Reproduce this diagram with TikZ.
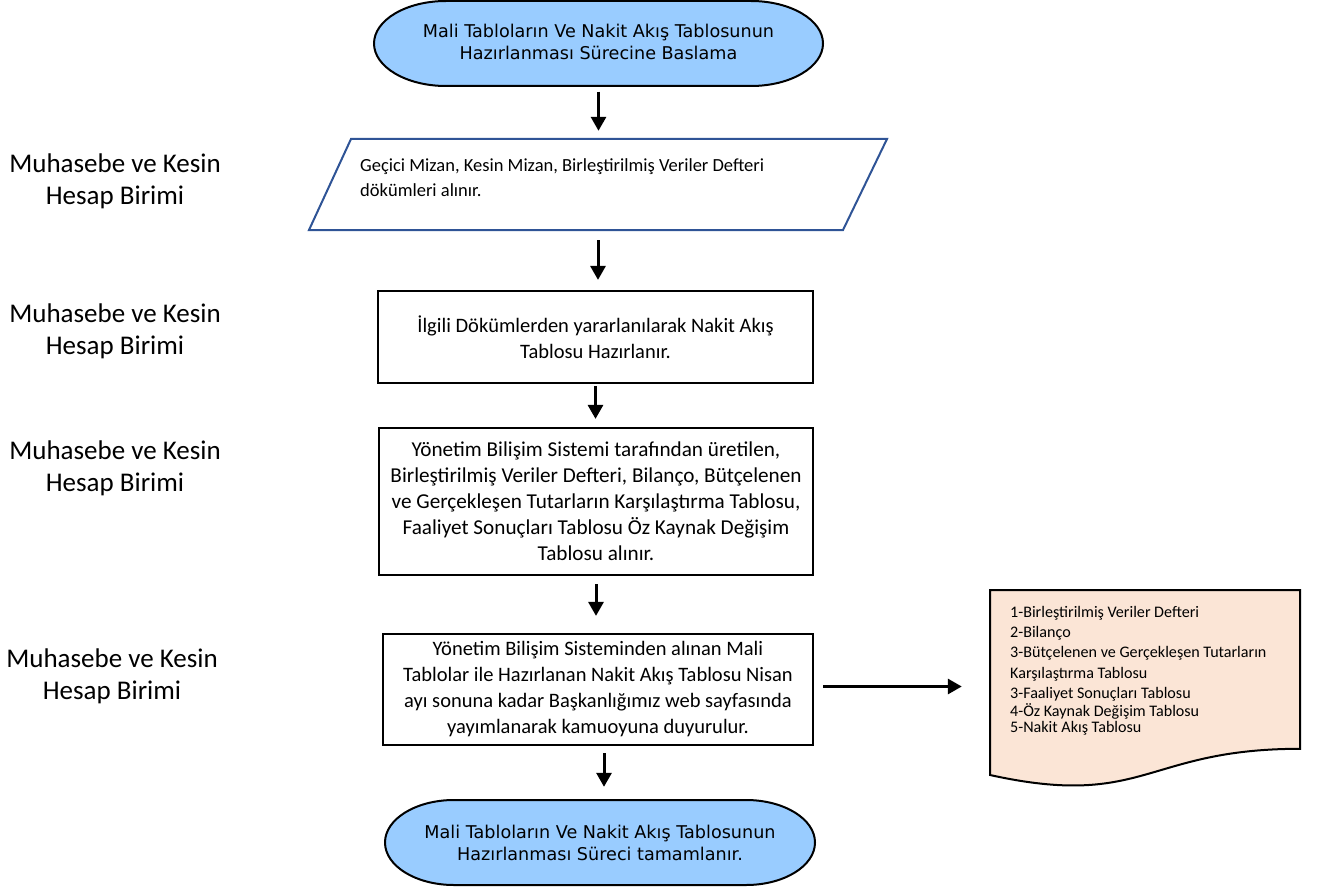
\documentclass[tikz,border=0pt]{standalone}
\usepackage{fontspec}
\setmainfont{Carlito}
\newfontfamily\termfont{DejaVu Sans}
\usetikzlibrary{arrows.meta,calc}
\definecolor{termblue}{RGB}{153,204,255}
\definecolor{parblue}{RGB}{47,84,150}
\definecolor{docfill}{RGB}{251,229,214}
\tikzset{
  ghost/.style={inner sep=0pt, draw=none},
  procbox/.style={draw=black, line width=2.2pt, align=center, inner sep=0pt,
    font=\fontsize{20.5}{26}\selectfont},
  lab/.style={align=center, font=\fontsize{27}{32}\selectfont},
  termtext/.style={align=center, font=\termfont\fontsize{17.6}{22}\selectfont},
  termshape/.style={fill=termblue, draw=black, line width=2pt},
  arr/.style={line width=3pt, -{Triangle[length=14pt,width=15pt]}},
}
\begin{document}
\begin{tikzpicture}[x=1pt,y=-1pt]
\useasboundingbox (0,0) rectangle (1320,888);

% shapes drawn directly
\path[termshape] (446,1) -- (751,1) arc[start angle=90,end angle=-90,x radius=72pt,y radius=42.5pt]
  -- (446,86) arc[start angle=270,end angle=90,x radius=72pt,y radius=42.5pt] -- cycle;
\path[termshape] (454,800) -- (746,800) arc[start angle=90,end angle=-90,x radius=69pt,y radius=42.5pt]
  -- (454,885) arc[start angle=270,end angle=90,x radius=69pt,y radius=42.5pt] -- cycle;
\filldraw[draw=parblue, fill=white, line width=2pt] (351,139) -- (887,139) -- (843,230) -- (309,230) -- cycle;
\filldraw[draw=black, fill=docfill, line width=2pt] (990,590) -- (1300,590) -- (1300,748.8)
  .. controls (1145,748.8) and (1145,809.2) .. (990,775) -- cycle;

% nodes
\node[ghost, termtext, minimum width=449pt, minimum height=85pt] (start) at (598.5,42)
  {Mali Tabloların Ve Nakit Akış Tablosunun\\Hazırlanması Sürecine Baslama};
\node[ghost, minimum width=578pt, minimum height=91pt] (input) at (598,184.5) {};
\node[anchor=west, inner sep=0pt, align=left, font=\fontsize{18.5}{25}\selectfont] (inputtext) at (360,178)
  {Geçici Mizan, Kesin Mizan, Birleştirilmiş Veriler Defteri\\dökümleri alınır.};
\node[procbox, minimum width=435pt, minimum height=92pt] (box2) at (595.5,337)
  {İlgili Dökümlerden yararlanılarak Nakit Akış\\Tablosu Hazırlanır.};
\node[procbox, minimum width=434pt, minimum height=147pt, font=\fontsize{21.2}{26}\selectfont] (box3) at (596,501.5)
  {Yönetim Bilişim Sistemi tarafından üretilen,\\Birleştirilmiş Veriler Defteri, Bilanço, Bütçelenen\\ve Gerçekleşen Tutarların Karşılaştırma Tablosu,\\Faaliyet Sonuçları Tablosu Öz Kaynak Değişim\\Tablosu alınır.};
\node[procbox, minimum width=430pt, minimum height=111pt] (box4) at (598,689.5)
  {Yönetim Bilişim Sisteminden alınan Mali\\Tablolar ile Hazırlanan Nakit Akış Tablosu Nisan\\ayı sonuna kadar Başkanlığımız web sayfasında\\yayımlanarak kamuoyuna duyurulur.};
\node[ghost, termtext, minimum width=430pt, minimum height=85pt] (end) at (600,842.5)
  {Mali Tabloların Ve Nakit Akış Tablosunun\\Hazırlanması Süreci tamamlanır.};
\node[ghost, minimum width=310pt, minimum height=198pt] (doc) at (1145,689) {};
\node[anchor=north west, inner sep=0pt, align=left, font=\fontsize{16.1}{20.3}\selectfont] (doctext) at (1010,606)
  {1-Birleştirilmiş Veriler Defteri\\2-Bilanço\\3-Bütçelenen ve Gerçekleşen Tutarların\\Karşılaştırma Tablosu\\3-Faaliyet Sonuçları Tablosu\\[-2pt]4-Öz Kaynak Değişim Tablosu\\[-4.5pt]5-Nakit Akış Tablosu};

\node[lab] (lab1) at (115,181.5) {Muhasebe ve Kesin\\Hesap Birimi};
\node[lab] (lab2) at (115,331.5) {Muhasebe ve Kesin\\Hesap Birimi};
\node[lab] (lab3) at (115,468.5) {Muhasebe ve Kesin\\Hesap Birimi};
\node[lab] (lab4) at (112,676.5) {Muhasebe ve Kesin\\Hesap Birimi};

% connectors
\draw[arr, shorten <=7pt, shorten >=8pt] (start.south) -- (start.south |- input.north);
\draw[arr, shorten <=10pt, shorten >=10pt] (input.south) -- (input.south |- box2.north);
\draw[arr, shorten <=2pt, shorten >=8pt] (box2.south) -- (box2.south |- box3.north);
\draw[arr, shorten <=8pt, shorten >=17pt] (box3.south) -- (box3.south |- box4.north);
\draw[arr, shorten <=7pt, shorten >=13pt] ([xshift=6pt]box4.south) -- ([xshift=6pt]box4.south |- end.north);
\draw[arr, shorten <=9pt, shorten >=28pt] ([yshift=3pt]box4.east) -- ([yshift=3pt]box4.east -| doc.west);
\end{tikzpicture}
\end{document}
